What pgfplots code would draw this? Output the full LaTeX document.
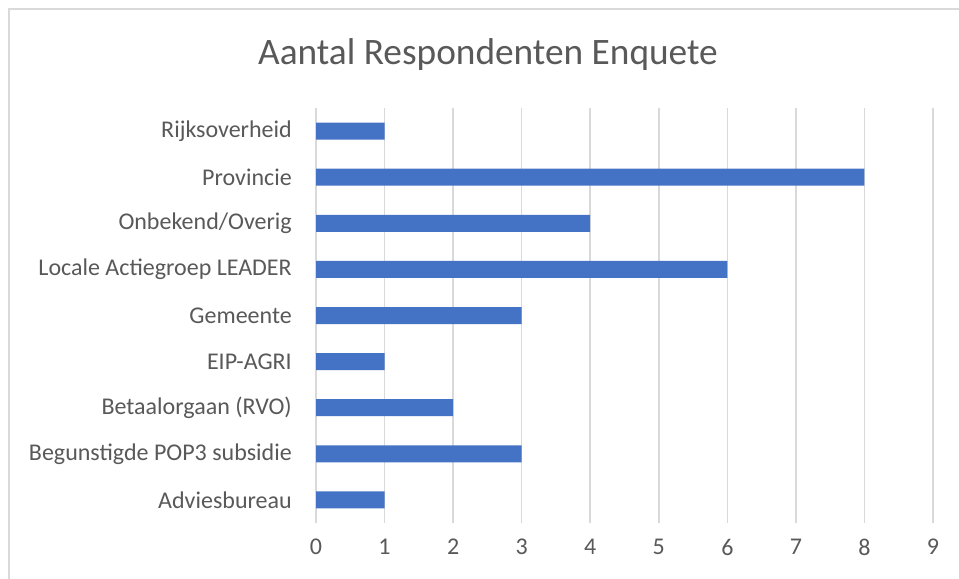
\documentclass[border=0pt]{standalone}
\usepackage{fontspec}
\setmainfont{Carlito}
\usepackage{pgfplots}
\pgfplotsset{compat=1.18}
\definecolor{barblue}{HTML}{4472C4}
\definecolor{gridgray}{HTML}{D9D9D9}
\definecolor{textgray}{HTML}{595959}
\begin{document}
\begin{tikzpicture}
\useasboundingbox (0,0) rectangle (719.25pt,433.5pt);
\clip (0,0) rectangle (719.25pt,433.5pt);
\fill[white] (0,0) rectangle (719.25pt,433.5pt);
\draw[gridgray, line width=1.2pt] (6.75pt,-20pt) -- (6.75pt,426.75pt) -- (740pt,426.75pt);
\node[textgray, font=\fontsize{28}{32}\selectfont] at (366pt,392.25pt) {Aantal Respondenten Enquete};
\begin{axis}[
  at={(237pt,41.25pt)}, anchor=south west,
  width=462.75pt, height=311.25pt, scale only axis,
  xbar, bar width=12.75pt,
  xmin=0, xmax=9, ymin=-0.5, ymax=8.5,
  xtick={0,...,9},
  ytick={0,...,8},
  yticklabels={Adviesbureau,Begunstigde POP3 subsidie,Betaalorgaan (RVO),EIP-AGRI,Gemeente,Locale Actiegroep LEADER,Onbekend/Overig,Provincie,Rijksoverheid},
  xmajorgrids, grid style={gridgray, line width=1.1pt},
  axis line style={draw=none},
  major tick length=0pt,
  tick style={draw=none},
  /pgf/number format/assume math mode=true,
  ticklabel style={font=\fontsize{18}{20}\selectfont, text=textgray, inner sep=0pt},
  yticklabel style={xshift=-18pt},
  xticklabel style={yshift=-12pt},
]
\addplot[fill=barblue, draw=none] coordinates {
(1,0) (3,1) (2,2) (1,3) (3,4) (6,5) (4,6) (8,7) (1,8)};
\end{axis}
\end{tikzpicture}
\end{document}
